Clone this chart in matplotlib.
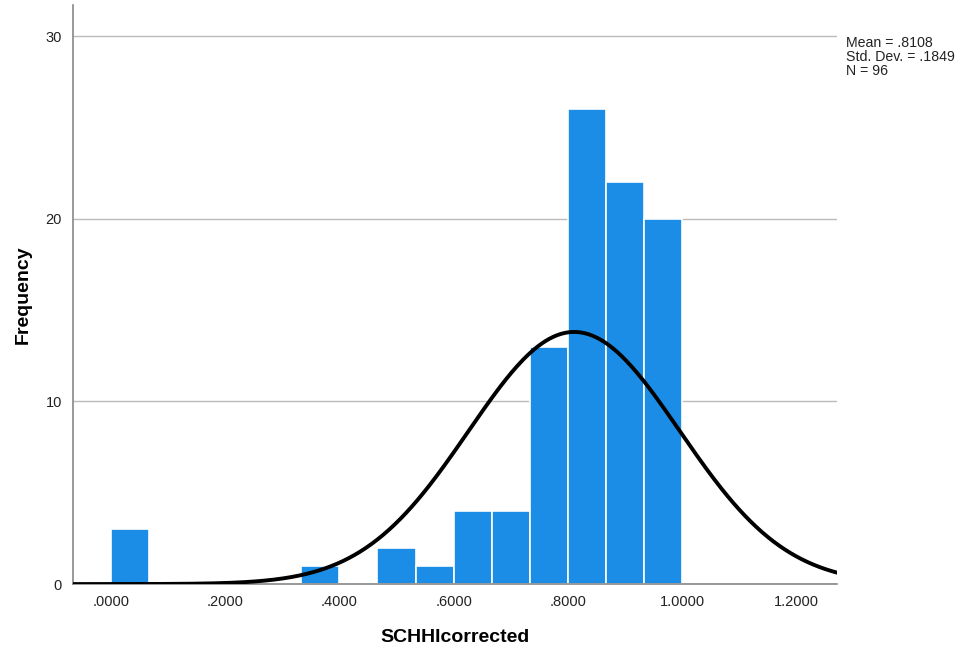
import numpy as np
import matplotlib
matplotlib.use('Agg')
import matplotlib.pyplot as plt

# histogram of SCHHIcorrected, 15 bins from 0 to 1
bin_edges = np.linspace(0, 1, 16)
counts = [3, 0, 0, 0, 0, 1, 0, 2, 1, 4, 4, 13, 26, 22, 20]
mean = 0.8108
sd = 0.1849
n = 96
xticks = [0.0, 0.2, 0.4, 0.6, 0.8, 1.0, 1.2]
xticklabels = ['.0000', '.2000', '.4000', '.6000', '.8000', '1.0000', '1.2000']
yticks = [0, 10, 20, 30]

plt.rcParams['font.family'] = ['Liberation Sans', 'DejaVu Sans']

fig = plt.figure(figsize=(9.63, 6.57), dpi=100)
ax = fig.add_axes([0.0758, 0.111, 0.793, 0.881])

ax.bar(bin_edges[:-1], counts, width=np.diff(bin_edges), align='edge',
       color='#1b8de6', edgecolor='white', linewidth=1.2, zorder=2)

xlim = (-0.066, 1.27)
xs = np.linspace(xlim[0], xlim[1], 400)
bw = bin_edges[1] - bin_edges[0]
ys = n * bw / (sd * np.sqrt(2 * np.pi)) * np.exp(-0.5 * ((xs - mean) / sd) ** 2)
ax.plot(xs, ys, color='black', linewidth=2.8, zorder=3)

ax.set_xlim(*xlim)
ax.set_ylim(0, 31.7)
ax.set_xticks(xticks)
ax.set_xticklabels(xticklabels)
ax.set_yticks(yticks)
ax.tick_params(length=0, labelsize=10.5, colors='#222222', pad=8)
ax.yaxis.grid(True, color='#bbbbbb', linewidth=1)
ax.set_axisbelow(True)

for s in ['top', 'right']:
    ax.spines[s].set_visible(False)
for s in ['left', 'bottom']:
    ax.spines[s].set_color('#888888')
    ax.spines[s].set_linewidth(1.2)

ax.set_xlabel('SCHHIcorrected', fontsize=14, fontweight='bold', labelpad=14)
ax.set_ylabel('Frequency', fontsize=14, fontweight='bold', labelpad=10)

fig.text(0.879, 0.945, 'Mean = .8108\nStd. Dev. = .1849\nN = 96',
         fontsize=10.2, va='top', ha='left', linespacing=1.0, color='#222222')

fig.savefig('out.png', dpi=100)
